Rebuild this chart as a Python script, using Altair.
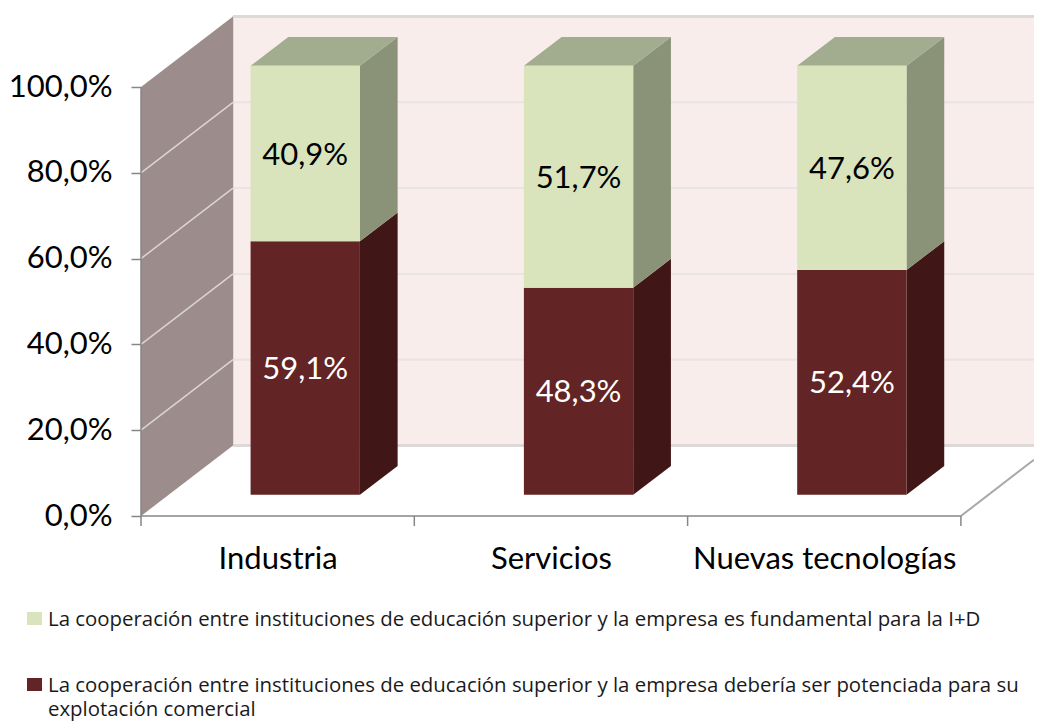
import json
import altair as alt
import pandas as pd

categories = ["Industria", "Servicios", "Nuevas tecnologías"]
explotacion = [59.1, 48.3, 52.4]
fundamental = [40.9, 51.7, 47.6]
grid_values = [0, 20, 40, 60, 80, 100]
tick_cats = [0, 1, 2, 3]
serie_fund = "La cooperación entre instituciones de educación superior y la empresa es fundamental para la I+D"
serie_expl = "La cooperación entre instituciones de educación superior y la empresa debería ser potenciada para su explotación comercial"
expl_line1 = "La cooperación entre instituciones de educación superior y la empresa debería ser potenciada para su"
expl_line2 = "explotación comercial"

# oblique projection of the 3D chart: one unit of depth moves along both scales
DX = 92 / 273.3       # category units per full depth
DY = 70.5 / 4.29      # percentage points per full depth
D0, D1 = 0.30, 0.71   # depth of bar front and back
BW = 0.40             # bar width in category units
XMAX = 893 / 273.3
YMAX = 504 / 4.29

def pu(i, d):
    return i + d * DX

def pp(v, d):
    return v + d * DY

FONT = "Lato"
LEGEND_FONT = "Open Sans"
LIGHT, LIGHT_TOP, LIGHT_SIDE = "#D9E4BD", "#A2AC8E", "#8A9278"
DARK, DARK_SIDE = "#622424", "#401716"

xs = alt.Scale(domain=[0, XMAX], nice=False, zero=False)
ys = alt.Scale(domain=[0, YMAX], nice=False, zero=False)
X = alt.X("u:Q", scale=xs, title=None,
          axis=alt.Axis(values=[0.5, 1.5, 2.5], ticks=False, domain=False, grid=False,
                        labelExpr=json.dumps(categories, ensure_ascii=False) + "[floor(datum.value)]",
                        labelFontSize=31, labelFont=FONT, labelColor="#000000", labelPadding=43,
                        labelAngle=0, labelBaseline="middle", labelLimit=400))
Y = alt.Y("p:Q", scale=ys, title=None,
          axis=alt.Axis(values=grid_values, tickSize=10, tickColor="#868686", tickWidth=1.5,
                        domain=False, grid=False, labelFontSize=31, labelFont=FONT,
                        labelColor="#000000", labelPadding=19,
                        labelExpr="replace(format(datum.value, '.1f'), '.', ',') + '%'"))
X2 = alt.X2("u2:Q")
Y2 = alt.Y2("p2:Q")

# walls
back = pd.DataFrame({"u": [DX], "u2": [XMAX], "p": [pp(0, 1)], "p2": [pp(100, 1)]})
wall_back = alt.Chart(back).mark_rect(color="#F9EDEB").encode(X, X2, Y, Y2)

left = pd.DataFrame({"u": [0, DX], "p": [0, pp(0, 1)], "p2": [100, pp(100, 1)]})
wall_left = alt.Chart(left).mark_area(color="#9C8C8B", orient="vertical", opacity=1).encode(X, Y, Y2)

side_grid = pd.DataFrame([{"g": g, "u": u, "p": pp(g, d)} for g in grid_values[1:-1] for u, d in ((0, 0), (DX, 1))])
grid_side = alt.Chart(side_grid).mark_line(color="#DAD5D4", strokeWidth=1.5).encode(X, Y, detail="g:N")

back_grid = pd.DataFrame([{"g": g, "u": u, "p": pp(g, 1)} for g in grid_values[1:-1] for u in (DX, XMAX)])
grid_back = alt.Chart(back_grid).mark_line(color="#E9E3E1", strokeWidth=2).encode(X, Y, detail="g:N")

edge_rows = [{"g": g, "u": u, "p": pp(g, 1)} for g in (0, 100) for u in (DX, XMAX)]
edge_back = alt.Chart(pd.DataFrame(edge_rows)).mark_line(color="#DDD9D8", strokeWidth=3).encode(X, Y, detail="g:N")
edge_vert = alt.Chart(pd.DataFrame([{"u": DX, "p": pp(0, 1)}, {"u": DX, "p": pp(100, 1)}])).mark_line(
    color="#E0D8D6", strokeWidth=2).encode(X, Y)

# axis lines and floor edge
axis_y = alt.Chart(pd.DataFrame({"u": [0, 0], "p": [0, 100]})).mark_line(color="#868686", strokeWidth=1.5).encode(X, Y)
axis_x = alt.Chart(pd.DataFrame({"u": [0, 3], "p": [0, 0]})).mark_line(color="#868686", strokeWidth=1.5).encode(X, Y)
ticks_x = alt.Chart(pd.DataFrame({"u": tick_cats, "p": [0] * 4, "p2": [-10 / 4.29] * 4})).mark_rule(
    color="#868686", strokeWidth=1.5).encode(X, Y, Y2)
floor_edge = alt.Chart(pd.DataFrame({"u": [3, XMAX], "p": [0, (XMAX - 3) * 273.3 * 0.77 / 4.29]})).mark_line(
    color="#A8A8A8", strokeWidth=2).encode(X, Y)

# bars
fronts, sides, tops, labels = [], [], [], []
for i, c in enumerate(categories):
    a, b = explotacion[i], fundamental[i]
    left_u = i + 0.5 - BW / 2
    right_u = i + 0.5 + BW / 2
    for lo, hi, serie, side_color, txt in ((0, a, serie_expl, DARK_SIDE, "#FFFFFF"),
                                           (a, a + b, serie_fund, LIGHT_SIDE, "#000000")):
        fronts.append({"serie": serie, "u": pu(left_u, D0), "u2": pu(right_u, D0),
                       "p": pp(lo, D0), "p2": pp(hi, D0)})
        for d in (D0, D1):
            sides.append({"k": f"{i}-{lo}", "col": side_color, "u": pu(right_u, d),
                          "p": pp(lo, d), "p2": pp(hi, d)})
        labels.append({"u": pu(i + 0.5, D0), "p": pp((lo + hi) / 2, D0), "col": txt,
                       "t": f"{hi - lo:.1f}".replace(".", ",") + "%"})
    for d in (D0, D1):
        tops.append({"k": i, "p": pp(100, d), "u": pu(left_u, d), "u2": pu(right_u, d)})

front_layer = alt.Chart(pd.DataFrame(fronts)).mark_rect().encode(
    X, X2, Y, Y2,
    color=alt.Color("serie:N", scale=alt.Scale(domain=[serie_fund, serie_expl], range=[LIGHT, DARK]), legend=None))
side_layer = alt.Chart(pd.DataFrame(sides)).mark_area(orient="vertical", opacity=1).encode(
    X, Y, Y2, detail="k:N", color=alt.Color("col:N", scale=None))
top_layer = alt.Chart(pd.DataFrame(tops)).mark_area(orient="horizontal", color=LIGHT_TOP, opacity=1).encode(
    alt.X("u:Q", scale=xs, title=None), X2, alt.Y("p:Q", scale=ys, title=None), detail="k:N")
text_layer = alt.Chart(pd.DataFrame(labels)).mark_text(font=FONT, fontSize=31, dy=2).encode(
    alt.X("u:Q", scale=xs), alt.Y("p:Q", scale=ys), text="t:N", color=alt.Color("col:N", scale=None))

# legend, drawn below the plot (positions relative to the plot's top-left corner)
def legend_text(line, y):
    return alt.Chart(pd.DataFrame({"t": [line]})).mark_text(
        font=LEGEND_FONT, fontSize=20.4, align="left", baseline="middle", color="#1A1A1A"
    ).encode(x=alt.value(-93), y=alt.value(y), text="t:N")

def legend_swatch(color, y):
    return alt.Chart(pd.DataFrame({"c": [color]})).mark_rect(color=color).encode(
        x=alt.value(-114), x2=alt.value(-99), y=alt.value(y), y2=alt.value(y + 13))

legend_layers = [
    legend_swatch(LIGHT, 600), legend_text(serie_fund, 608),
    legend_swatch(DARK, 666), legend_text(expl_line1, 674), legend_text(expl_line2, 698),
]

chart = alt.layer(
    wall_back, grid_back, edge_back, edge_vert, wall_left, grid_side, floor_edge,
    axis_y, axis_x, ticks_x, side_layer, top_layer, front_layer, text_layer, *legend_layers
).properties(
    width=893, height=504, background="#FFFFFF",
    padding={"left": 133, "top": 4, "right": 0, "bottom": 205},
    autosize=alt.AutoSizeParams(type="none"),
).configure_view(strokeWidth=0, stroke="transparent")

chart.save("out.html", embed_options={"renderer": "svg", "actions": False})
